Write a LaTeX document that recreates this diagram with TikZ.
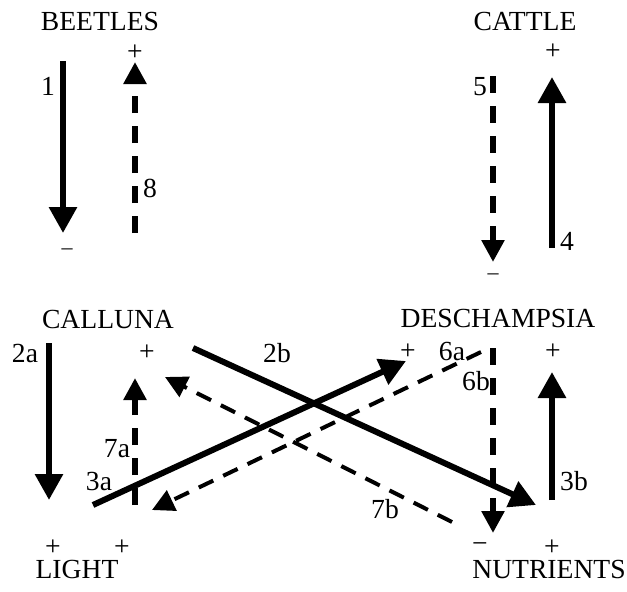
\documentclass[tikz,border=0pt]{standalone}
\usepackage{fontspec}
\setmainfont{Liberation Serif}
\usetikzlibrary{arrows.meta}
\begin{document}
\begin{tikzpicture}[x=1pt,y=-1pt,
  solidarr/.style={line width=6pt,-{Triangle[length=26pt,width=27pt]}},
  vdash/.style={line width=6pt,dash pattern=on 17pt off 13pt,-{Triangle[length=22pt,width=22pt]}},
  ddash/.style={line width=4pt,dash pattern=on 16pt off 11pt,-{Triangle[length=22pt,width=22pt]}},
  lbl/.style={inner sep=0pt,anchor=base,font=\fontsize{27.6}{33}\selectfont},
  sgn/.style={inner sep=0pt,anchor=center,font=\fontsize{27.6}{33}\selectfont},
  smallsgn/.style={inner sep=0pt,anchor=center,font=\fontsize{22}{26}\selectfont}]
\useasboundingbox (0,0) rectangle (627,592);
% species / factor names
\node[lbl] (beetles) at (100,30) {BEETLES};
\node[lbl] (cattle) at (525,30) {CATTLE};
\node[lbl] (calluna) at (108,328) {CALLUNA};
\node[lbl] (desch) at (498,327) {DESCHAMPSIA};
\node[lbl] (light) at (77,578) {LIGHT};
\node[lbl] (nutr) at (549,578) {NUTRIENTS};
% signs
\node[sgn] (sb) at (135,53) {+};
\node[smallsgn] (mb) at (67,252) {–};
\node[sgn] (sc) at (553,52) {+};
\node[smallsgn] (mc) at (493,277) {–};
\node[sgn] (scal) at (147,353) {+};
\node[sgn] (sd1) at (408,352) {+};
\node[sgn] (sd2) at (553,352) {+};
\node[sgn] (sl1) at (53,548) {+};
\node[sgn] (sl2) at (122,548) {+};
\node[sgn] (mn) at (480,548) {−};
\node[sgn] (sn) at (552,548) {+};
% arrow labels
\node[lbl] (l1) at (48,95) {1};
\node[lbl] (l8) at (150,197) {8};
\node[lbl] (l5) at (480,95) {5};
\node[lbl] (l4) at (567,250) {4};
\node[lbl] (l2a) at (25,362) {2a};
\node[lbl] (l2b) at (277,362) {2b};
\node[lbl] (l7a) at (117,457) {7a};
\node[lbl] (l3a) at (99,490) {3a};
\node[lbl] (l6a) at (452,360) {6a};
\node[lbl] (l6b) at (476,390) {6b};
\node[lbl] (l3b) at (574,490) {3b};
\node[lbl] (l7b) at (385,518) {7b};
% end points
\coordinate (a1s) at (63,61);   \coordinate (a1e) at (63,233);
\coordinate (a8s) at (135,233); \coordinate (a8e) at (135,62);
\coordinate (a5s) at (493,76);  \coordinate (a5e) at (493,262);
\coordinate (a4s) at (552,248); \coordinate (a4e) at (552,77);
\coordinate (a2as) at (49,343); \coordinate (a2ae) at (49,500);
\coordinate (a7as) at (135,505);\coordinate (a7ae) at (135,378);
\coordinate (a6bs) at (493,348);\coordinate (a6be) at (493,533);
\coordinate (a3bs) at (552,500);\coordinate (a3be) at (552,372);
\coordinate (a2bs) at (193,348);\coordinate (a2be) at (536,505);
\coordinate (a3as) at (93,505); \coordinate (a3ae) at (406,361);
\coordinate (a6as) at (481,352);\coordinate (a6ae) at (152,510);
\coordinate (a7bs) at (452,522);\coordinate (a7be) at (165,377);
% arrows
\draw[solidarr] (a1s) -- (a1e);
\draw[vdash] (a8s) -- (a8e);
\draw[vdash] (a5s) -- (a5e);
\draw[solidarr] (a4s) -- (a4e);
\draw[solidarr] (a2as) -- (a2ae);
\draw[vdash] (a7as) -- (a7ae);
\draw[vdash] (a6bs) -- (a6be);
\draw[solidarr] (a3bs) -- (a3be);
\draw[solidarr] (a2bs) -- (a2be);
\draw[solidarr] (a3as) -- (a3ae);
\draw[ddash] (a6as) -- (a6ae);
\draw[ddash] (a7bs) -- (a7be);
\end{tikzpicture}
\end{document}
